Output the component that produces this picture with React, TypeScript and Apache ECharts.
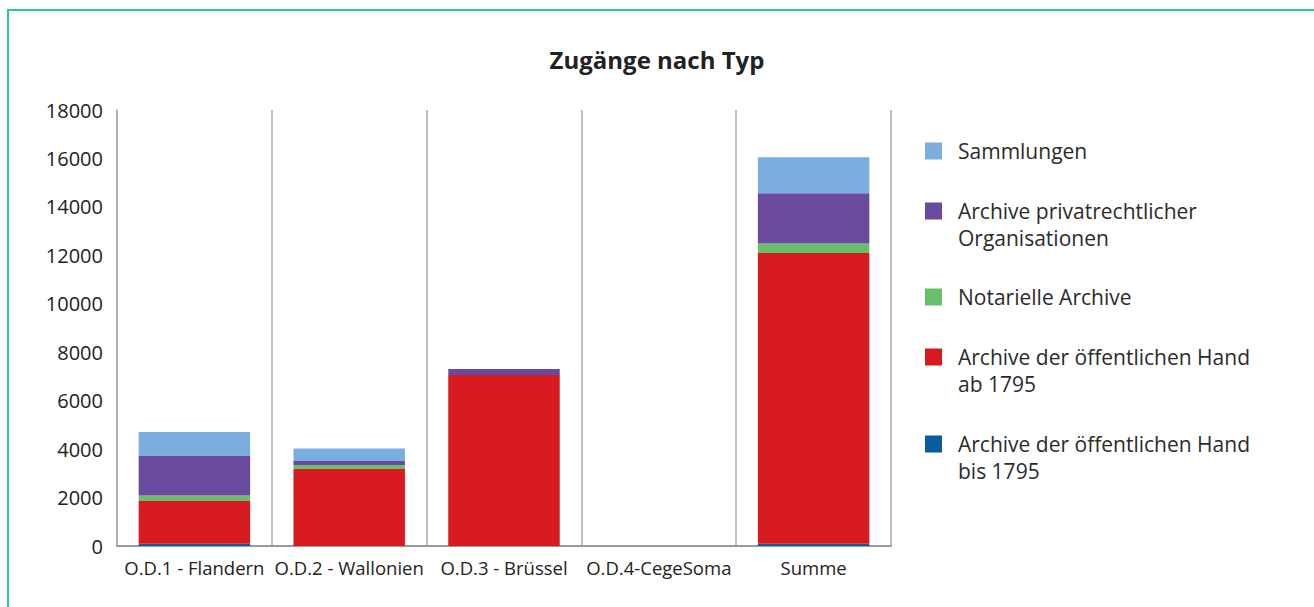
import React, { useEffect, useRef } from "react";
import * as echarts from "echarts";

const categories = ["O.D.1 - Flandern", "O.D.2 - Wallonien", "O.D.3 - Brüssel", "O.D.4-CegeSoma", "Summe"];
const bis1795 = [90, 0, 0, 0, 90];
const ab1795 = [1770, 3180, 7060, 0, 12010];
const notarielle = [230, 160, 0, 0, 390];
const privat = [1650, 170, 250, 0, 2070];
const sammlungen = [970, 520, 0, 0, 1490];

const seriesNames = [
  "Archive der öffentlichen Hand\nbis 1795",
  "Archive der öffentlichen Hand\nab 1795",
  "Notarielle Archive",
  "Archive privatrechtlicher\nOrganisationen",
  "Sammlungen",
];
const seriesData = [bis1795, ab1795, notarielle, privat, sammlungen];
const colors = ["#0b5c9e", "#d71920", "#6abf69", "#6a4a9e", "#7aaedf"];
const yTicks = [0, 2000, 4000, 6000, 8000, 10000, 12000, 14000, 16000, 18000];

const FONT = "'Open Sans', sans-serif";

export default function App() {
  const ref = useRef<HTMLDivElement>(null);
  useEffect(() => {
    const chart = echarts.init(ref.current!, null, { renderer: "svg" });
    const legendTops = [151, 211, 297, 357, 444];
    const legendGraphics: any[] = [];
    for (let i = 0; i < seriesNames.length; i++) {
      const si = seriesNames.length - 1 - i;
      const y = legendTops[i];
      legendGraphics.push({
        type: "rect",
        shape: { x: 925, y: y - 8.5, width: 17, height: 17 },
        style: { fill: colors[si] },
      });
      legendGraphics.push({
        type: "text",
        x: 958,
        y: y - 14,
        style: {
          text: seriesNames[si],
          font: `21px ${FONT}`,
          fill: "#2b2b2b",
          lineHeight: 27,
        },
      });
    }
    chart.setOption({
      animation: false,
      title: {
        text: "Zugänge nach Typ",
        left: "center",
        top: 42,
        textStyle: { fontFamily: FONT, fontSize: 24, fontWeight: "bold", color: "#222" },
      },
      grid: { left: 117, right: 423, top: 110, bottom: 61, containLabel: false },
      xAxis: {
        type: "category",
        data: categories,
        axisLine: { show: true, lineStyle: { color: "#999", width: 2 } },
        axisTick: { show: false },
        splitLine: { show: true, interval: 0, lineStyle: { color: "#aaa", width: 1.5 } },
        axisLabel: { interval: 0, fontFamily: FONT, fontSize: 18.5, color: "#222", margin: 12 },
      },
      yAxis: {
        type: "value",
        min: 0,
        max: 18000,
        interval: 2000,
        axisLine: { show: true, lineStyle: { color: "#aaa", width: 1.5 } },
        axisTick: { show: false },
        splitLine: { show: false },
        axisLabel: {
          fontFamily: FONT,
          fontSize: 20,
          color: "#222",
          margin: 14,
          formatter: (v: number) => (yTicks.includes(v) ? String(v) : ""),
        },
      },
      series: seriesData.map((d, i) => ({
        name: seriesNames[i],
        type: "bar",
        stack: "total",
        data: d,
        barWidth: "72%",
        itemStyle: { color: colors[i] },
      })),
      graphic: [
        {
          type: "rect",
          shape: { x: 8, y: 10, width: 1330, height: 630 },
          style: { fill: "none", stroke: "#2fc4a2", lineWidth: 2 },
          silent: true,
        },
        ...legendGraphics,
      ],
    });
    return () => chart.dispose();
  }, []);
  return (
    <div
      ref={ref}
      style={{ position: "absolute", left: 0, top: 0, width: 1314, height: 607 }}
    />
  );
}
